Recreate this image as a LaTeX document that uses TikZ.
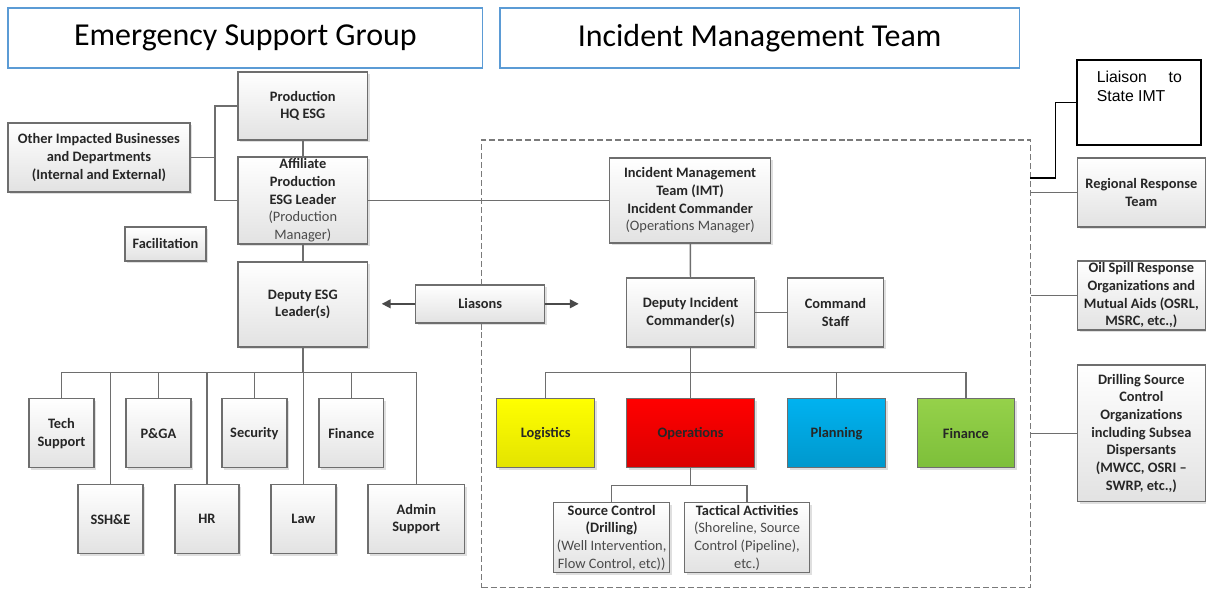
\documentclass[tikz,border=0pt]{standalone}
\usepackage{fontspec}
\setmainfont{Carlito}
\newfontfamily\arialfont{Liberation Sans}
\usetikzlibrary{arrows.meta, shadows, calc}
\definecolor{boxline}{HTML}{6E6E6E}
\definecolor{boxbot}{HTML}{E2E2E2}
\definecolor{headblue}{HTML}{5B9BD5}
\definecolor{txtdark}{HTML}{262626}
\definecolor{txtgray}{HTML}{4A4A4A}
\definecolor{framegray}{HTML}{7A7A7A}
\definecolor{logtop}{HTML}{FFFF00}
\definecolor{logbot}{HTML}{E3E300}
\definecolor{opstop}{HTML}{FF0000}
\definecolor{opsbot}{HTML}{DA0000}
\definecolor{plantop}{HTML}{00B2F0}
\definecolor{planbot}{HTML}{0098CC}
\definecolor{fintop}{HTML}{95D14A}
\definecolor{finbot}{HTML}{7DBF3A}
% regular-weight line inside a bold box
\newcommand{\lite}[1]{{\mdseries\color{txtgray}#1}}

\begin{document}
\begin{tikzpicture}[
    x=0.02cm, y=-0.02cm,
    hdr/.style={rectangle, draw=headblue, line width=0.9pt, fill=white, minimum height=1.2cm, inner sep=1pt, font=\fontsize{18.2}{21}\selectfont},
    unit/.style={rectangle, draw=boxline, line width=0.8pt, top color=white, bottom color=boxbot, text=txtdark, align=center, inner sep=1pt, font=\fontsize{8.2}{10.1}\selectfont\bfseries, drop shadow={shadow xshift=1.2pt, shadow yshift=-1.2pt, opacity=0.25}},
    small/.style={unit, minimum width=1.3cm, minimum height=1.38cm},
    side/.style={unit, minimum width=2.56cm, minimum height=1.38cm},
    section/.style={unit, minimum width=1.96cm, minimum height=1.38cm},
    statebox/.style={rectangle, draw=black, line width=1.2pt, fill=white, inner xsep=0.39cm, inner ysep=0.125cm, font=\arialfont\fontsize{9}{10.4}\selectfont},
    frame/.style={draw=framegray, line width=0.8pt, dash pattern=on 3.4pt off 1.7pt},
    conn/.style={draw=boxline, line width=0.8pt},
    arr/.style={conn, -{Triangle[length=5pt, width=5pt]}, color=txtgray},
  ]
    % headers
    \node[hdr, minimum width=9.5cm] (esghead) at (245.5,38) {Emergency Support Group};
    \node[hdr, minimum width=10.4cm] (imthead) at (760,38) {Incident Management Team};

    % IMT frame
    \node[frame, rectangle, minimum width=10.98cm, minimum height=8.96cm, inner sep=0pt] (imtframe) at (756.5,364) {};

    % emergency support group
    \node[unit, minimum width=2.6cm, minimum height=1.36cm] (hq) at (303,106) {Production\\HQ ESG};
    \node[unit, minimum width=3.64cm, minimum height=1.38cm] (other) at (99,157.5) {Other Impacted Businesses\\and Departments\\(Internal and External)};
    \node[unit, minimum width=2.6cm, minimum height=1.7cm] (affil) at (303,200.5) {Affiliate\\Production\\ESG Leader\\\lite{(Production}\\\lite{Manager)}};
    \node[unit, minimum width=1.62cm, minimum height=0.68cm] (facil) at (165.5,244) {Facilitation};
    \node[unit, minimum width=2.6cm, minimum height=1.7cm] (depesg) at (303,304.5) {Deputy ESG\\Leader(s)};
    \node[unit, minimum width=2.58cm, minimum height=0.76cm] (liasons) at (480.5,304) {Liasons};

    \node[small] (tech) at (61.5,433.5) {Tech\\Support};
    \node[small] (pga) at (158.5,433.5) {P\&GA};
    \node[small] (security) at (254.5,433.5) {Security};
    \node[small] (esgfin) at (351.5,433.5) {Finance};
    \node[small] (sshe) at (110.5,519.5) {SSH\&E};
    \node[small, minimum width=1.28cm] (hr) at (207,519.5) {HR};
    \node[small] (law) at (303.5,519.5) {Law};
    \node[small, minimum width=1.94cm] (admin) at (416.5,519.5) {Admin\\Support};

    % incident management team
    \node[unit, minimum width=3.22cm, minimum height=1.7cm] (ic) at (690.5,200.5) {Incident Management\\Team (IMT)\\Incident Commander\\\lite{(Operations Manager)}};
    \node[unit, minimum width=2.56cm, minimum height=1.38cm] (dic) at (691,312.5) {Deputy Incident\\Commander(s)};
    \node[unit, minimum width=1.92cm, minimum height=1.38cm] (cmdstaff) at (836,312.5) {Command\\Staff};
    \node[section, top color=logtop, bottom color=logbot] (logistics) at (546,433.5) {Logistics};
    \node[section, minimum width=2.56cm, top color=opstop, bottom color=opsbot] (ops) at (691,433.5) {Operations};
    \node[section, top color=plantop, bottom color=planbot] (planning) at (837,433.5) {Planning};
    \node[section, minimum width=1.94cm, top color=fintop, bottom color=finbot] (imtfin) at (966.5,433.5) {Finance};
    \node[unit, minimum width=2.32cm, minimum height=1.4cm] (srcctl) at (612,538) {Source Control\\(Drilling)\\\lite{(Well Intervention,}\\\lite{Flow Control, etc))}};
    \node[unit, minimum width=2.5cm, minimum height=1.4cm] (tactical) at (747.5,538) {Tactical Activities\\\lite{(Shoreline, Source}\\\lite{Control (Pipeline),}\\\lite{etc.)}};

    % outside organisations
    \node[statebox] (state) at (1140,102.5) {\parbox[t][1.45cm][t]{1.7cm}{\vspace{3pt}Liaison\hfill to\\State IMT}};
    \node[side] (rrt) at (1142,192.5) {Regional Response\\Team};
    \node[side] (osro) at (1142,295.5) {Oil Spill Response\\Organizations and\\Mutual Aids (OSRL,\\MSRC, etc.,)};
    \node[side, minimum height=2.74cm] (dsco) at (1142,433.5) {Drilling Source\\Control\\Organizations\\including Subsea\\Dispersants\\(MWCC, OSRI --\\SWRP, etc.,)};

    % ESG links
    \coordinate (esgbus) at (215,157.5);
    \draw[conn] (other) -- (esgbus);
    \draw[conn] (hq.west) -| (esgbus) |- (affil.west);
    \draw[conn] (hq) -- (affil);
    \draw[conn] (affil) -- (depesg);
    \draw[conn] (affil) -- (ic);
    \coordinate (esgrow) at (303,373);
    \draw[conn] (depesg.south) -- (esgrow);
    \draw[conn] (tech.north) |- (esgrow) -| (admin.north);
    \foreach \n in {pga, security, esgfin}
      \draw[conn] (\n.north) -- (\n.north |- esgrow);
    \foreach \n in {sshe, hr, law}
      \draw[conn] (\n.north) -- (\n.north |- esgrow);

    % liasons arrows
    \coordinate (liaL) at (382,304);
    \coordinate (liaR) at (579,304);
    \draw[arr] (liasons.west) -- (liaL);
    \draw[arr] (liasons.east) -- (liaR);

    % IMT links
    \draw[conn] (ic) -- (dic);
    \draw[conn] (dic) -- (cmdstaff);
    \coordinate (imtrow) at (691,373);
    \draw[conn] (dic.south) -- (imtrow);
    \draw[conn] (logistics.north) |- (imtrow) -| (imtfin.north);
    \draw[conn] (ops.north) -- (imtrow);
    \draw[conn] (planning.north) -- (planning.north |- imtrow);
    \coordinate (opsrow) at (691,486);
    \draw[conn] (ops.south) -- (opsrow);
    \draw[conn] (srcctl.north) |- (opsrow) -| (tactical.north);

    % outside links
    \coordinate (statejoin) at (1031,178);
    \draw[line width=0.8pt, black] (statejoin) -- ++(25,0) |- (state.west);
    \draw[conn] (imtframe.east |- rrt) -- (rrt);
    \draw[conn] (imtframe.east |- osro) -- (osro);
    \draw[conn] (imtframe.east |- dsco) -- (dsco);

    \useasboundingbox (0,0) rectangle (1206,595);
  \end{tikzpicture}
\end{document}
